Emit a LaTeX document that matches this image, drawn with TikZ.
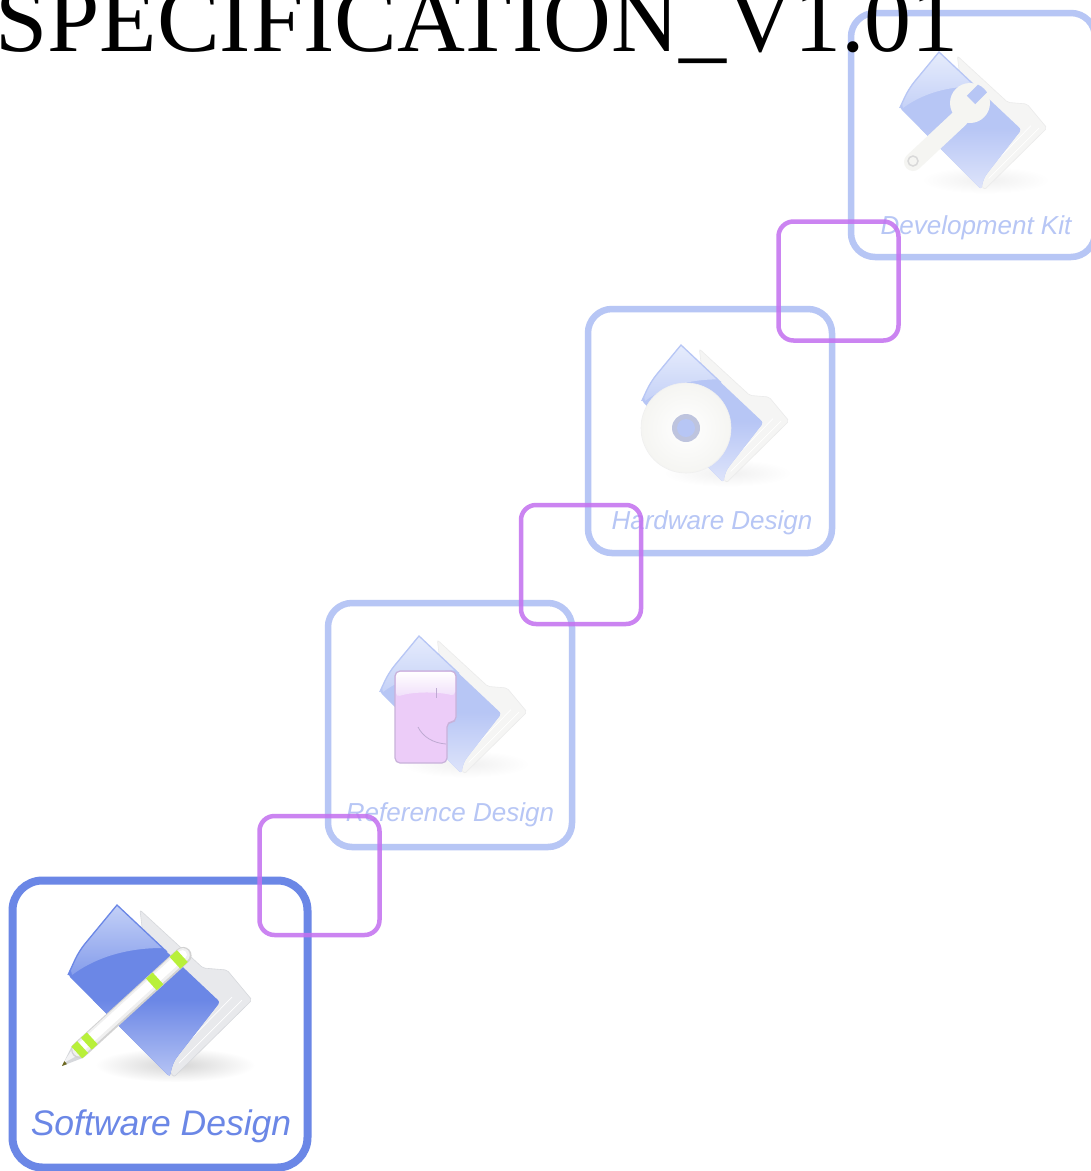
\documentclass[tikz,border=0pt]{standalone}
\usepackage{fontspec}
\setmainfont{Liberation Serif}
\newfontfamily\labelfont{Liberation Sans}
\definecolor{softmid}{HTML}{6B87E6}
\definecolor{softtop}{HTML}{C3D0F7}
\definecolor{softlow}{HTML}{BAC7F5}
\definecolor{softpaper}{HTML}{E8E9EC}
\definecolor{softedge}{HTML}{D6D8DC}
\definecolor{softshadow}{HTML}{D4D4D4}
\definecolor{fademid}{HTML}{B7C6F5}
\definecolor{fadetop}{HTML}{E6ECFC}
\definecolor{fadelow}{HTML}{E0E6FB}
\definecolor{fadepaper}{HTML}{F5F5F4}
\definecolor{fadeedge}{HTML}{EBEBEB}
\definecolor{fadeshadow}{HTML}{F0F0F0}
\definecolor{frameviolet}{HTML}{C473F0}
\definecolor{toolwhite}{HTML}{F5F5F2}
\definecolor{boardfill}{HTML}{ECCCF8}
\definecolor{boardedge}{HTML}{C8B2DA}
\definecolor{boardline}{HTML}{BEAAD2}
\definecolor{boardgloss}{HTML}{F0DEFA}
\definecolor{hubring}{HTML}{BEC4DE}
\definecolor{bandlime}{HTML}{B8F03A}
\tikzset{
  x=1pt,y=-1pt,
  softbox/.style={draw=softmid,line width=8pt,rounded corners=30pt,minimum width=295pt,minimum height=287pt,inner sep=0pt},
  fadebox/.style={draw=fademid,line width=6.5pt,rounded corners=24pt,minimum width=244pt,minimum height=244pt,inner sep=0pt},
  violetbox/.style={draw=frameviolet,draw opacity=.88,line width=4.5pt,rounded corners=15pt,minimum width=120pt,minimum height=119pt,inner sep=0pt},
  softlabel/.style={font=\labelfont\itshape\fontsize{35.5}{40}\selectfont,text=softmid,inner sep=0pt},
  fadelabel/.style={font=\labelfont\itshape\fontsize{26}{30}\selectfont,text=fademid,inner sep=0pt},
  titletext/.style={font=\fontsize{94}{100}\selectfont,text=black,inner sep=0pt,anchor=base west}
}
\newcommand{\folderIcon}[4]{%
\begin{scope}[shift={(#1,#2)},scale=#3]
  \shade[inner color=#4shadow,outer color=white] (58,160) ellipse [x radius=80,y radius=17];
  \fill[#4paper,draw=#4edge,line width=.6pt,rounded corners=2pt]
    (23,5) -- (86,63) -- (110,65) -- (135,95) -- (57,172) -- (40,150) -- cycle;
  \draw[white,line width=.7pt] (125,95) -- (62,158) (115,92) -- (66,142);
  \begin{scope}
    \clip[rounded corners=3pt] (0,0) -- (103,97) -- (60,152) .. controls (56,158) and (54,165) .. (53,172) -- (-49,70) [rounded corners=9pt] -- (-38,46) [sharp corners] -- cycle;
    \fill[#4mid] (-60,-5) rectangle (115,180);
    \shade[top color=#4mid,bottom color=#4low] (-60,95) rectangle (115,175);
    \shade[top color=#4top,bottom color=#4mid!70!#4top] (-60,0) -- (60,0) -- (45,43) .. controls (5,43) and (-25,55) .. (-45,70) -- cycle;
  \end{scope}
  \draw[#4mid,line width=1.3pt,rounded corners=9pt] (-49,70) -- (-38,46) [sharp corners] -- (0,0) -- (50,47);
\end{scope}}
\begin{document}
\begin{tikzpicture}
\useasboundingbox (0,0) rectangle (1091,1171);
\clip (0,0) rectangle (1091,1171);
\fill[white] (0,0) rectangle (1091,1171);

% frames
\node[softbox] (softframe) at (160,1024) {};
\node[fadebox] (refframe) at (450,725) {};
\node[fadebox] (hwframe) at (710,431) {};
\node[fadebox] (kitframe) at (973,135) {};

% folders
\folderIcon{117}{905}{1}{soft}
\folderIcon{419}{636}{.8}{fade}
\folderIcon{681}{345}{.8}{fade}
\folderIcon{939}{52}{.8}{fade}

% pencil
\begin{scope}[shift={(62,1066)},rotate=42.4]
  \fill[softedge] (22,-8.5) -- (0,0) -- (22,8.5) -- cycle;
  \fill[white!70!softedge] (3,-1.2) -- (24,-7) -- (24,4) -- cycle;
  \fill[olive!70!black] (0,0) -- (5,-2) -- (5,2) -- cycle;
  \draw[gray!35,line width=17pt,line cap=round] (24,0) -- (164,0);
  \draw[gray!12,line width=14pt,line cap=round] (24,-.5) -- (164,-.5);
  \draw[white,line width=9pt,line cap=round] (24,-1) -- (164,-1);
  \foreach \bandstart/\bandend in {20/28,33/41,121/130,153/163}{
    \draw[bandlime,line width=16pt] (\bandstart,0) -- (\bandend,0);
  }
\end{scope}

% board shape (Reference Design)
\path[fill=boardfill,draw=boardedge,line width=1.2pt,rounded corners=5pt]
  (395,671) -- (456,671) -- (456,722) -- (447,722) -- (447,763) -- (395,763) -- cycle;
\shade[top color=white,bottom color=boardgloss,rounded corners=4pt]
  (396,672) -- (455,672) -- (455,696) .. controls (440,692) and (415,691) .. (396,697) -- cycle;
\draw[boardline,line width=.8pt] (436,688) -- (436,698);
\draw[boardline,line width=.8pt] (418,727) .. controls (423,737) and (433,743) .. (446,744);

% disc (Hardware Design)
\shade[inner color=white,outer color=toolwhite] (686,428) circle [radius=45];
\draw[gray!12,line width=.6pt] (686,428) circle [radius=45];
\fill[hubring] (686,428) circle [radius=14];
\fill[fademid] (686,428) circle [radius=9];

% wrench (Development Kit)
\draw[toolwhite,line width=18pt,line cap=round] (913,162) -- (960,118);
\fill[toolwhite] (970,103) circle [radius=20];
\begin{scope}
  \clip (970,103) circle [radius=20];
  \draw[fademid,line width=12pt] (971,100) -- (995,76);
\end{scope}
\draw[gray!30,line width=1.5pt,fill=toolwhite] (913,161) circle [radius=5];

% labels
\node[softlabel] (softlabel) at (161,1126) {Software Design};
\node[fadelabel] (reflabel) at (450,815) {Reference Design};
\node[fadelabel] (hwlabel) at (712,523) {Hardware Design};
\node[fadelabel] (kitlabel) at (976,228) {Development Kit};

% title
\node[titletext] (title) at (-5,51.5) {SPECIFICATION\_V1.01};

% violet frames
\node[violetbox] (violetone) at (319.5,875.5) {};
\node[violetbox] (violettwo) at (581,564.5) {};
\node[violetbox] (violetthree) at (838.5,281) {};
\end{tikzpicture}
\end{document}
